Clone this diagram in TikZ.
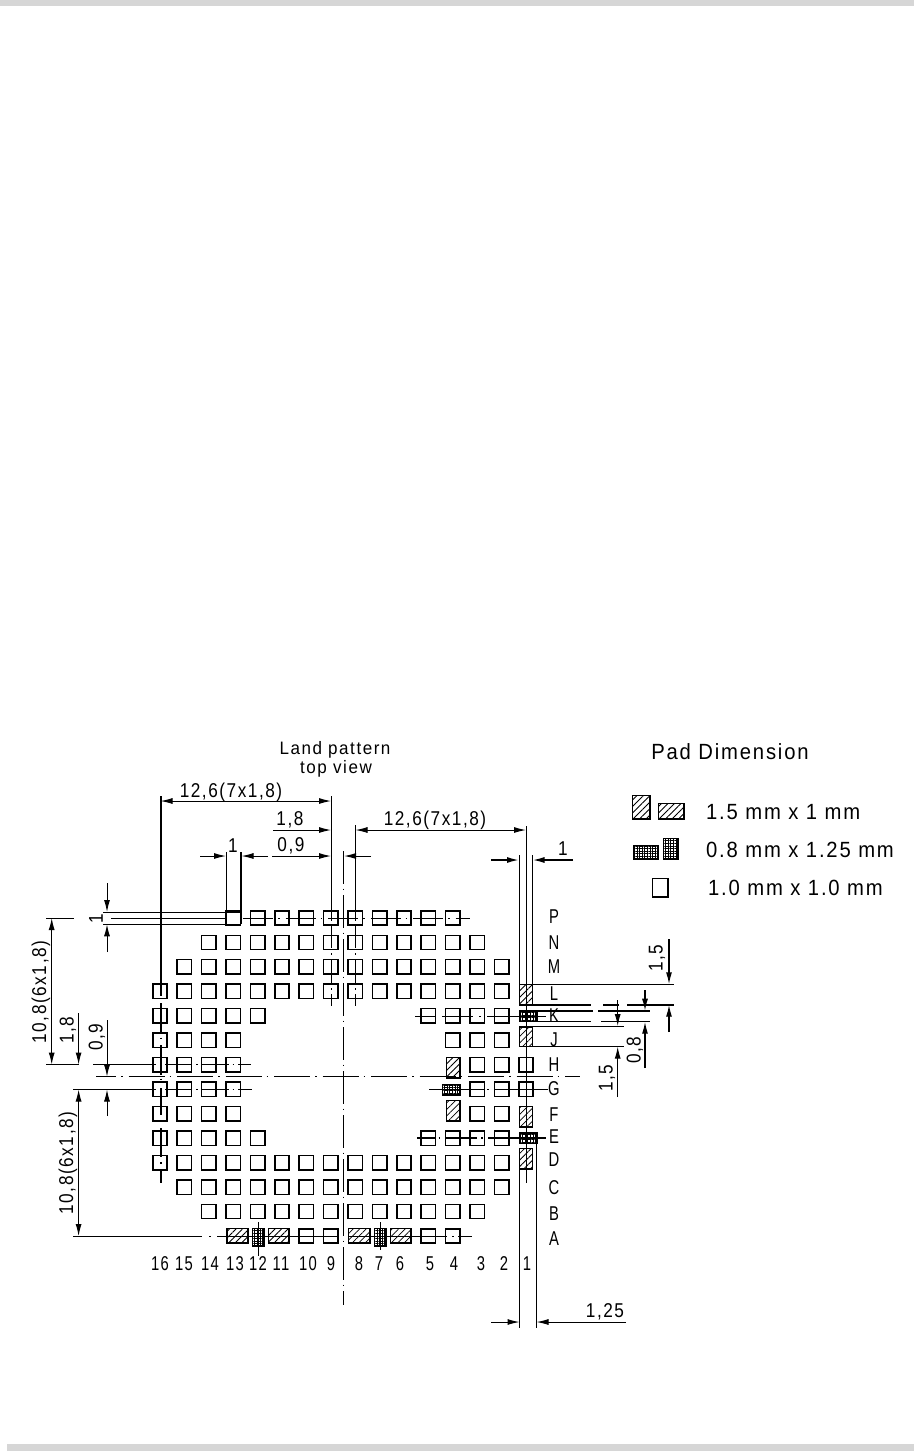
\documentclass[tikz,border=0pt]{standalone}
\usepackage{fontspec}
\usetikzlibrary{arrows.meta,patterns.meta}
\newfontfamily\cadfont[LetterSpace=9]{Liberation Sans}
\definecolor{bandgray}{HTML}{D6D6D6}
\tikzset{
  thin line/.style={line width=1pt,line cap=butt},
  thick line/.style={line width=2pt,line cap=butt},
  pad box/.style={line width=1.5pt,draw=black},
  hatched/.style={pad box,pattern={Lines[angle=45,distance=4.6pt,line width=.8pt]}},
  crossed/.style={pad box,pattern={Hatch[angle=0,distance=2.6pt,line width=1pt]}},
  tip end/.style={-{Latex[length=12pt,width=6pt]}},
  tip both/.style={{Latex[length=12pt,width=6pt]}-{Latex[length=12pt,width=6pt]}},
  center v/.style={thin line,dash pattern=on 33pt off 4.5pt on 1.5pt off 5pt},
  center h/.style={line width=1.2pt,dash pattern=on 36pt off 5pt on 1.5pt off 6pt,dash phase=16pt},
  row p/.style={thin line,dash pattern=on 30pt off 5pt on 1.5pt off 6pt},
  row hg/.style={thin line,dash pattern=on 27pt off 4pt on 1.5pt off 4pt},
  cad/.style={inner sep=0pt,transform shape,xscale=.86,font=\cadfont\fontsize{20}{22}\selectfont},
  cadnum/.style={inner sep=0pt,transform shape,xscale=.74,font=\cadfont\fontsize{20}{22}\selectfont},
  cadtitle/.style={inner sep=0pt,transform shape,xscale=.86,font=\cadfont\fontsize{18}{20}\selectfont},
  cadv/.style={inner sep=0pt,transform shape,rotate=90,xscale=.86,font=\cadfont\fontsize{20}{22}\selectfont},
  legend/.style={inner sep=0pt,transform shape,xscale=.92,font=\cadfont\fontsize{22}{24}\selectfont}
}
\begin{document}
\begin{tikzpicture}[x=1pt,y=-1pt]
\useasboundingbox (0,0) rectangle (914,1452);
\fill[bandgray] (0,0) rectangle (914,6);
\fill[bandgray] (7,1444) rectangle (914,1451);

% plain pads
\foreach \r/\cols in {
  0/{13,12,11,10,9,8,7,6,5,4},
  1/{14,13,12,11,10,9,8,7,6,5,4,3},
  2/{15,14,13,12,11,10,9,8,7,6,5,4,3,2},
  3/{16,15,14,13,12,11,10,9,8,7,6,5,4,3,2},
  4/{16,15,14,13,12,5,4,3,2},
  5/{16,15,14,13,4,3,2},
  6/{16,15,14,13,3,2,1},
  7/{16,15,14,13,3,2,1},
  8/{16,15,14,13,3,2},
  9/{16,15,14,13,12,5,4,3,2},
  10/{16,15,14,13,12,11,10,9,8,7,6,5,4,3,2},
  11/{15,14,13,12,11,10,9,8,7,6,5,4,3,2},
  12/{14,13,12,11,10,9,8,7,6,5,4,3},
  13/{10,9,5,4}}{
  \foreach \c in \cols {
    \draw[pad box] ({160+(16-\c)*24.4-7.2},{918+\r*24.46-7.2}) rectangle ++(14.4,14.4);
  }
}
% special pads
\draw[hatched] (519.5,984.5) rectangle (532.5,1004.5);
\draw[crossed] (519.5,1011) rectangle (537,1021.5);
\draw[hatched] (519.5,1027) rectangle (532.5,1046.5);
\draw[hatched] (446.5,1057.5) rectangle (460,1078);
\draw[crossed] (442.5,1084.5) rectangle (460,1095);
\draw[hatched] (446.5,1100.5) rectangle (460,1121);
\draw[hatched] (519.5,1106.5) rectangle (532.5,1127);
\draw[crossed] (519.5,1133) rectangle (537,1143.5);
\draw[hatched] (519.5,1148.5) rectangle (532.5,1169);
\draw[hatched] (227,1228.5) rectangle (248,1243);
\draw[crossed] (252.5,1228.5) rectangle (264,1246);
\draw[hatched] (268.5,1228.5) rectangle (289,1243);
\draw[hatched] (348.5,1228.5) rectangle (370,1243);
\draw[crossed] (374.5,1228.5) rectangle (386,1246);
\draw[hatched] (390.5,1228.5) rectangle (411,1243);

% centre lines
\draw[center v] (343,851) -- (343,1305);
\draw[center h] (96,1076.7) -- (580,1076.7);

% column 16 centre line
\foreach \a/\b in {796/996,1003/1033,1037.5/1039,1045/1075,1078.5/1080,1088/1115,1128/1157,1162/1164,1170/1183}
  \draw[thick line] (160.5,\a) -- (160.5,\b);
% columns 9 and 8
\foreach \a/\b in {796/921,925/948,953/955,960/983,988/990,994/1006}
  \draw[thin line] (331.5,\a) -- (331.5,\b);
\foreach \a/\b in {825/921,925/948,953/955,960/983,988/990,994/1006}
  \draw[thin line] (355.5,\a) -- (355.5,\b);
% columns 12 and 7
\draw[thin line] (258,1222) -- (258,1256);
\draw[thin line] (380,1222) -- (380,1250);

% extension lines, columns
\draw[thin line] (226.5,852) -- (226.5,924);
\draw[line width=1.5pt] (241,852) -- (241,924);
\draw[thin line] (526.5,826) -- (526.5,1183);
\draw[thin line] (519.5,855) -- (519.5,1004);
\draw[thin line] (532.5,855) -- (532.5,985);
\draw[thin line] (519.5,1148) -- (519.5,1328);
\draw[thin line] (536.5,1143) -- (536.5,1328);

% row lines, left
\draw[thin line] (103,912) -- (241,912);
\draw[thin line] (103,924.3) -- (241,924.3);
\draw[thin line] (111,918) -- (226,918);
\draw[row p] (243,918) -- (470,918);
\draw[thin line] (46,918) -- (74,918);
\draw[thin line] (46,1064.5) -- (78.6,1064.5);
\draw[thin line] (93,1064.5) -- (156,1064.5);
\draw[row hg] (165,1064.5) -- (251,1064.5);
\draw[thin line] (73,1089.5) -- (156,1089.5);
\draw[row hg] (165,1089.5) -- (252,1089.5);
\draw[thin line] (73,1236) -- (202,1236);
\foreach \a/\b in {209/211,217/338,348/447,452/454,458/472}
  \draw[thin line] (\a,1236) -- (\b,1236);

% row lines, right
\draw[thin line] (415,1016) -- (435,1016);
\draw[thin line] (442,1016) -- (473,1016);
\draw[thin line] (479,1016) -- (481,1016);
\draw[thin line] (487,1016) -- (546,1016);
\draw[thick line] (417,1138) -- (436,1138);
\draw[thick line] (438.5,1138) -- (440,1138);
\draw[thick line] (446,1138) -- (477,1138);
\draw[thick line] (481,1138) -- (483,1138);
\draw[thick line] (488,1138) -- (546,1138);
\draw[thin line] (429,1089.5) -- (484,1089.5);
\draw[thin line] (487,1089.5) -- (489,1089.5);
\draw[thin line] (494,1089.5) -- (548,1089.5);
\draw[thin line] (533,984.3) -- (674,984.3);
\draw[thick line] (519,1004.7) -- (591,1004.7);
\draw[thick line] (603,1004.7) -- (619,1004.7);
\draw[thick line] (627,1004.7) -- (674,1004.7);
\draw[thick line] (519,1010.7) -- (593,1010.7);
\draw[thick line] (598,1010.7) -- (650,1010.7);
\draw[thin line] (519,1021.7) -- (591,1021.7);
\draw[thin line] (601,1021.7) -- (650,1021.7);
\draw[thin line] (533,1026) -- (624,1026);
\draw[thin line] (533,1046.7) -- (624,1046.7);

% dimension lines, horizontal
\draw[thin line,tip both] (160.5,801) -- (331,801);
\draw[thin line,tip end] (273,830) -- (331,830);
\draw[thin line,tip both] (355.5,830) -- (526,830);
\draw[thin line,tip end] (200,856) -- (226,856);
\draw[thin line,tip end] (268,856) -- (241.5,856);
\draw[thin line,tip end] (272,856) -- (331,856);
\draw[thin line,tip end] (371,856) -- (344,856);
\draw[line width=1.6pt,tip end] (491,860) -- (519,860);
\draw[line width=1.6pt,tip end] (573,860) -- (532.5,860);
\draw[thin line,tip end] (491,1322) -- (519.5,1322);
\draw[thin line,tip end] (626,1322) -- (536.5,1322);

% dimension lines, vertical
\draw[thin line,tip end] (107,883) -- (107,912);
\draw[thin line,tip end] (107,952) -- (107,924.3);
\draw[thin line,tip both] (51.7,918) -- (51.7,1064.5);
\draw[thin line,tip end] (78.6,1013) -- (78.6,1064.5);
\draw[thin line,tip both] (78.6,1236) -- (78.6,1089.5);
\draw[thin line,tip end] (107,1020) -- (107,1076.7);
\draw[thin line,tip end] (107,1116) -- (107,1089.5);
\draw[line width=1.4pt,tip end] (669,939) -- (669,984.3);
\draw[line width=1.4pt,tip end] (669,1032) -- (669,1004.7);
\draw[line width=1.4pt,tip end] (645,990) -- (645,1010.7);
\draw[line width=1.4pt,tip end] (645,1068) -- (645,1021.7);
\draw[thin line,tip end] (617.7,1000) -- (617.7,1026);
\draw[thin line,tip end] (617.7,1097) -- (617.7,1046.7);

% dimension texts
\node[cadtitle,xscale=1.1] (tland) at (335,750) {Land pattern};
\node[cadtitle,xscale=1.1] (ttop) at (336,769) {top view};
\node[cad] (d1) at (231,792) {12,6(7x1,8)};
\node[cad] (d2) at (290,820) {1,8};
\node[cad] (d3) at (435,820) {12,6(7x1,8)};
\node[cad] (d4) at (233,846) {1};
\node[cad] (d5) at (291,846) {0,9};
\node[cad] (d6) at (563,849) {1};
\node[cad] (d7) at (605,1312) {1,25};
\node[cadv] (v1) at (96,919) {1};
\node[cadv] (v2) at (41,992) {10,8(6x1,8)};
\node[cadv] (v3) at (68,1030) {1,8};
\node[cadv] (v4) at (97,1037) {0,9};
\node[cadv] (v5) at (68,1163) {10,8(6x1,8)};
\node[cadv] (v6) at (657,958) {1,5};
\node[cadv] (v7) at (635,1050) {0,8};
\node[cadv] (v8) at (607,1078) {1,5};

% row letters
\foreach \t/\yy/\n in {P/917/rP,N/943/rN,M/967/rM,L/994/rL,K/1016/rK,J/1040/rJ,H/1065/rH,G/1089/rG,F/1115/rF,E/1137/rE,D/1160/rD,C/1188/rC,B/1214/rB,A/1239/rA}
  \node[cadnum] (\n) at (554,\yy) {\t};
% column numbers
\foreach \t/\xx in {16/160,15/184,14/210,13/235,12/258,11/281,10/308,9/331,8/359,7/379,6/400,5/430,4/454,3/481,2/504,1/527}
  \node[cadnum] (c\t) at (\xx,1264) {\t};

% legend
\node[legend] (lt) at (730,752) {Pad Dimension};
\draw[hatched] (632.5,795.5) rectangle (650,819);
\draw[hatched] (658.5,803.5) rectangle (684,819);
\draw[crossed] (633.5,845.5) rectangle (658,859);
\draw[crossed] (663.5,838.5) rectangle (678,859);
\draw[pad box] (652.5,878.5) rectangle (668,897);
\node[legend,anchor=west] (l1) at (706,812) {1.5 mm x 1 mm};
\node[legend,anchor=west] (l2) at (706,850) {0.8 mm x 1.25 mm};
\node[legend,anchor=west] (l3) at (708,888) {1.0 mm x 1.0 mm};
\end{tikzpicture}
\end{document}
